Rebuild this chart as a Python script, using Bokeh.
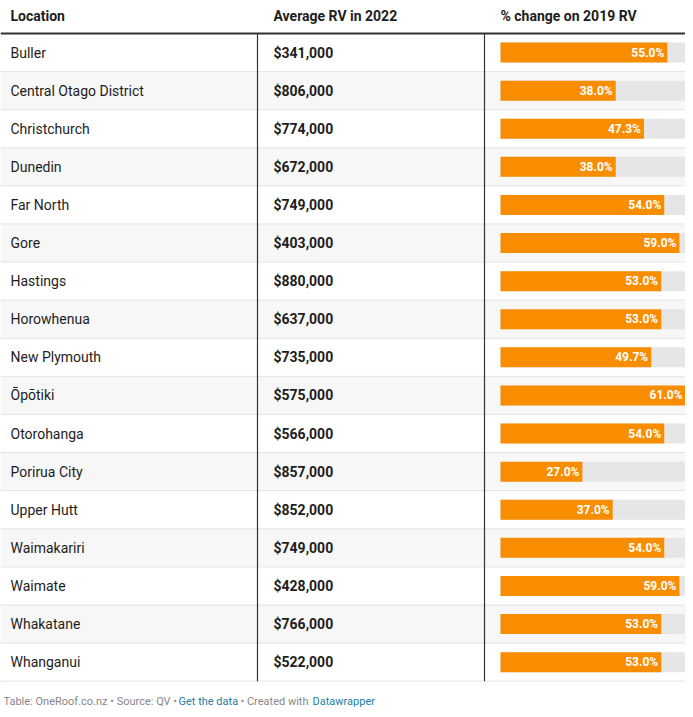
from bokeh.plotting import figure
from bokeh.models import ColumnDataSource, Range1d
from bokeh.core.properties import value
from bokeh.embed import file_html
from bokeh.resources import INLINE

locations = ["Buller", "Central Otago District", "Christchurch", "Dunedin", "Far North",
             "Gore", "Hastings", "Horowhenua", "New Plymouth", "Ōpōtiki", "Otorohanga",
             "Porirua City", "Upper Hutt", "Waimakariri", "Waimate", "Whakatane", "Whanganui"]
avg_rv = [341000, 806000, 774000, 672000, 749000, 403000, 880000, 637000, 735000,
          575000, 566000, 857000, 852000, 749000, 428000, 766000, 522000]
pct_change = [55.0, 38.0, 47.3, 38.0, 54.0, 59.0, 53.0, 53.0, 49.7, 61.0, 54.0,
              27.0, 37.0, 54.0, 59.0, 53.0, 53.0]
headers = ["Location", "Average RV in 2022", "% change on 2019 RV"]

FONT = "Roboto"
ORANGE = "#f98d00"

# layout (pixel coordinates of the drawing area)
W, H = 685, 709
top = 33.0
rh = 38.1
bar_x0 = 500.0
bar_max_px = 185.0
pmax = max(pct_change)
n = len(locations)

p = figure(width=W, height=H, output_backend="svg", toolbar_location=None,
           x_range=Range1d(0, W), y_range=Range1d(H, 0), min_border=0)
p.axis.visible = False
p.grid.visible = False
p.outline_line_color = None
p.background_fill_color = "white"
p.border_fill_color = "white"

idx = list(range(n))
yc = [top + rh * (i + 0.5) for i in idx]
ybot = [top + rh * (i + 1) for i in idx]
scale = bar_max_px / pmax
bar_end = [bar_x0 + v * scale for v in pct_change]
src = ColumnDataSource(dict(
    loc=locations,
    rv=["${:,}".format(v) for v in avg_rv],
    pct=["{:.1f}%".format(v) for v in pct_change],
    yc=yc, ybot=ybot, ytop=[b - rh for b in ybot],
    x0=[bar_x0] * n, xe=bar_end, xl=[e - 3 for e in bar_end],
    xbg=[bar_x0 + bar_max_px] * n,
    fill=["#ffffff" if i % 2 == 0 else "#f7f7f7" for i in idx],
))

# alternating row backgrounds
p.quad(left=0, right=W, top="ybot", bottom="ytop", fill_color="fill",
       line_color=None, source=src)
# row separators
p.segment(x0=0, x1=W, y0="ybot", y1="ybot", line_color="#e3e3e3", line_width=1,
          source=src)

# bars
p.hbar(y="yc", left="x0", right="xbg", height=20, fill_color="#e6e6e6", line_color=None,
       source=src)
p.hbar(y="yc", left="x0", right="xe", height=20, fill_color=ORANGE, line_color=None,
       source=src)
p.text(x="xl", y="yc", text="pct", text_align="right", text_baseline="middle",
       text_font=value(FONT), text_font_size="12px", text_font_style="bold",
       text_color="white", source=src)

# cell texts
p.text(x=10, y="yc", text="loc", text_baseline="middle", text_font=value(FONT),
       text_font_size="14px", text_color="#1d1d1d", source=src)
p.text(x=273, y="yc", text="rv", text_baseline="middle", text_font=value(FONT),
       text_font_size="14px", text_font_style="bold", text_color="#1d1d1d", source=src)

# vertical dividers
bottom = top + rh * n
p.segment(x0=[257, 484], x1=[257, 484], y0=[top, top], y1=[bottom, bottom],
          line_color="#333333", line_width=1.2)

# header
p.text(x=[10, 273, 500], y=[15, 15, 15], text=headers, text_baseline="middle",
       text_font=value(FONT), text_font_size="14px", text_font_style="bold",
       text_color="#1d1d1d")
p.segment(x0=0, x1=W, y0=top, y1=top, line_color="#333333", line_width=2.2)

# footer
fx = [3, 178, 240, 312]
ft = ["Table: OneRoof.co.nz • Source: QV •", "Get the data", "• Created with",
      "Datawrapper"]
fc = ["#888888", "#1d81a2", "#888888", "#1d81a2"]
p.text(x=fx, y=[701] * 4, text=ft, text_color=fc, text_baseline="middle",
       text_font=value(FONT), text_font_size="11px")

open("out.html", "w").write(file_html(p, INLINE))
